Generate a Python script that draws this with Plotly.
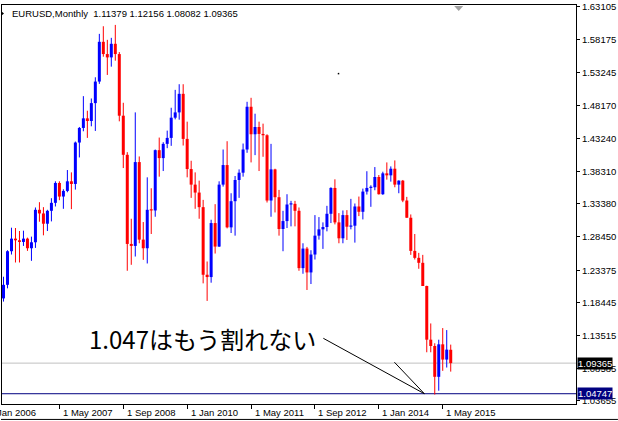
import plotly.graph_objects as go

# ---------------- data (monthly EURUSD, Mar 2006 .. Jul 2015) ----------------
opens = [1.1913, 1.2118, 1.2625, 1.2815, 1.2790, 1.2765, 1.2815, 1.2670, 1.2760, 1.3250,
         1.3195, 1.3040, 1.3235, 1.3355, 1.3655, 1.3450, 1.3535, 1.3680, 1.3640, 1.4265,
         1.4485, 1.4630, 1.4590, 1.4860, 1.5185, 1.5785, 1.5600, 1.5550, 1.5755, 1.5600,
         1.4670, 1.4080, 1.2735, 1.2705, 1.3970, 1.2800, 1.2670, 1.3250, 1.3240, 1.4150,
         1.4030, 1.4245, 1.4335, 1.4640, 1.4720, 1.5000, 1.4320, 1.3865, 1.3630, 1.3510,
         1.3290, 1.2270, 1.2235, 1.3050, 1.2695, 1.3630, 1.3925, 1.2985, 1.3380, 1.3700,
         1.3810, 1.4160, 1.4805, 1.4390, 1.4500, 1.4395, 1.4375, 1.3390, 1.3860, 1.3440,
         1.2960, 1.3080, 1.3330, 1.3340, 1.3235, 1.2370, 1.2665, 1.2305, 1.2575, 1.2860,
         1.2955, 1.2990, 1.3190, 1.3580, 1.3060, 1.2820, 1.3170, 1.2995, 1.3010, 1.3300,
         1.3220, 1.3525, 1.3580, 1.3590, 1.3745, 1.3485, 1.3800, 1.3770, 1.3870, 1.3630,
         1.3690, 1.3390, 1.3130, 1.2630, 1.2525, 1.2450, 1.2100, 1.1290, 1.1195, 1.0730,
         1.1220, 1.0990, 1.11379]
highs = [1.2240, 1.2640, 1.2980, 1.2975, 1.2930, 1.2935, 1.2830, 1.2845, 1.3285, 1.3365,
         1.3290, 1.3250, 1.3425, 1.3680, 1.3680, 1.3560, 1.3850, 1.3815, 1.4280, 1.4500,
         1.4965, 1.4745, 1.4930, 1.5250, 1.5905, 1.6020, 1.5815, 1.5845, 1.6040, 1.5630,
         1.4865, 1.4120, 1.3115, 1.4720, 1.4055, 1.3065, 1.3740, 1.3575, 1.4160, 1.4340,
         1.4270, 1.4445, 1.4790, 1.5060, 1.5145, 1.5145, 1.4580, 1.3990, 1.3815, 1.3690,
         1.3400, 1.2470, 1.3100, 1.3335, 1.3680, 1.4160, 1.4285, 1.3500, 1.3760, 1.3860,
         1.4250, 1.4880, 1.4940, 1.4700, 1.4580, 1.4550, 1.4390, 1.4245, 1.3870, 1.3550,
         1.3235, 1.3485, 1.3385, 1.3385, 1.3285, 1.2745, 1.2690, 1.2640, 1.3170, 1.3140,
         1.3060, 1.3310, 1.3590, 1.3710, 1.3200, 1.3240, 1.3245, 1.3415, 1.3345, 1.3450,
         1.3570, 1.3832, 1.3620, 1.3895, 1.3775, 1.3825, 1.3965, 1.3905, 1.3995, 1.3695,
         1.3700, 1.3445, 1.3180, 1.2885, 1.2600, 1.2570, 1.2105, 1.1535, 1.1236, 1.1290,
         1.1465, 1.1435, 1.12156]
lows = [1.1865, 1.2065, 1.2575, 1.2455, 1.2455, 1.2705, 1.2630, 1.2480, 1.2675, 1.3070,
        1.2865, 1.2930, 1.3075, 1.3300, 1.3395, 1.3265, 1.3515, 1.3260, 1.3555, 1.4040,
        1.4435, 1.4335, 1.4510, 1.4440, 1.5150, 1.5560, 1.5285, 1.5410, 1.5500, 1.4585,
        1.3880, 1.2330, 1.2420, 1.2545, 1.2745, 1.2495, 1.2440, 1.2885, 1.3145, 1.3750,
        1.3835, 1.4180, 1.4215, 1.4615, 1.4610, 1.4220, 1.3740, 1.3430, 1.3265, 1.3115,
        1.2140, 1.1875, 1.2150, 1.2590, 1.2690, 1.3600, 1.2970, 1.2900, 1.2860, 1.3430,
        1.3750, 1.4110, 1.3965, 1.4075, 1.3835, 1.4050, 1.3360, 1.3145, 1.3210, 1.2860,
        1.2625, 1.2975, 1.3000, 1.3000, 1.2330, 1.2285, 1.2040, 1.2130, 1.2500, 1.2800,
        1.2660, 1.2925, 1.3050, 1.3030, 1.2745, 1.2745, 1.2795, 1.2955, 1.2755, 1.3155,
        1.3105, 1.3480, 1.3295, 1.3545, 1.3480, 1.3475, 1.3705, 1.3675, 1.3590, 1.3500,
        1.3365, 1.3130, 1.2570, 1.2500, 1.2360, 1.2100, 1.1100, 1.1100, 1.0462, 1.0520,
        1.0820, 1.0870, 1.08082]
closes = [1.2118, 1.2625, 1.2815, 1.2790, 1.2765, 1.2815, 1.2670, 1.2760, 1.3250, 1.3195,
          1.3040, 1.3235, 1.3355, 1.3655, 1.3450, 1.3535, 1.3680, 1.3640, 1.4265, 1.4485,
          1.4630, 1.4590, 1.4860, 1.5185, 1.5785, 1.5600, 1.5550, 1.5755, 1.5600, 1.4670,
          1.4080, 1.2735, 1.2705, 1.3970, 1.2800, 1.2670, 1.3250, 1.3240, 1.4150, 1.4030,
          1.4245, 1.4335, 1.4640, 1.4720, 1.5000, 1.4320, 1.3865, 1.3630, 1.3510, 1.3290,
          1.2270, 1.2235, 1.3050, 1.2695, 1.3630, 1.3925, 1.2985, 1.3380, 1.3700, 1.3810,
          1.4160, 1.4805, 1.4390, 1.4500, 1.4395, 1.4375, 1.3390, 1.3860, 1.3440, 1.2960,
          1.3080, 1.3330, 1.3340, 1.3235, 1.2370, 1.2665, 1.2305, 1.2575, 1.2860, 1.2955,
          1.2990, 1.3190, 1.3580, 1.3060, 1.2820, 1.3170, 1.2995, 1.3010, 1.3300, 1.3220,
          1.3525, 1.3580, 1.3590, 1.3745, 1.3485, 1.3800, 1.3770, 1.3870, 1.3630, 1.3690,
          1.3390, 1.3130, 1.2630, 1.2525, 1.2450, 1.2100, 1.1290, 1.1195, 1.0730, 1.1220,
          1.0990, 1.1140, 1.09365]

# x-axis tick labels (bar index counted from Mar 2006)
x_tick_index = [-2, 14, 30, 46, 62, 78, 94, 110]
x_tick_labels = ["1 Jan 2006", "1 May 2007", "1 Sep 2008", "1 Jan 2010",
                 "1 May 2011", "1 Sep 2012", "1 Jan 2014", "1 May 2015"]

# right price-scale labels
y_tick_values = [1.63105, 1.58175, 1.53245, 1.48170, 1.43240, 1.38310, 1.33380,
                 1.28450, 1.23375, 1.18445, 1.13515, 1.08585, 1.03655]

title_text = "EURUSD,Monthly  1.11379 1.12156 1.08082 1.09365"
current_price = 1.09365
support_level = 1.04747
note_text = "1.047はもう割れない"
note_pos = (21.0, 1.1311)            # (bar index, price) of the text's left edge
trend_lines = [((80.1, 1.1311), (105.4, 1.04747)),
               ((97.9, 1.0950), (105.4, 1.04747))]
stray_dot = (83.9, 1.5305)           # tiny object left on the chart

# ---------------- figure ----------------
W, H = 618, 421
ML, MR, MT, MB = 1, 42, 3, 17
PW, PH = W - ML - MR, H - MT - MB
x0 = -0.375
x1 = x0 + PW / 4.0
y_top = 1.63105 + 2 / 666.0
y_bot = 1.63105 - 399 / 666.0

BLUE = "#0000FF"
RED = "#FF0000"
FONT = "Liberation Sans"

idx = list(range(len(opens)))
body_base, body_h, body_col = [], [], []
wick_up_x, wick_up_y, wick_dn_x, wick_dn_y = [], [], [], []
for i, o, h, l, c in zip(idx, opens, highs, lows, closes):
    up = c >= o
    body_base.append(min(o, c))
    body_h.append(max(abs(c - o), 1.2 / 666.0))
    body_col.append(BLUE if up else RED)
    if up:
        wick_up_x += [i, i, None]
        wick_up_y += [l, h, None]
    else:
        wick_dn_x += [i, i, None]
        wick_dn_y += [l, h, None]

fig = go.Figure()
fig.add_trace(go.Bar(x=idx, y=body_h, base=body_base, width=0.75,
                     marker=dict(color=body_col, line=dict(width=0)),
                     hoverinfo="skip"))
fig.add_trace(go.Scatter(x=wick_up_x, y=wick_up_y, mode="lines",
                         line=dict(color=BLUE, width=1), hoverinfo="skip"))
fig.add_trace(go.Scatter(x=wick_dn_x, y=wick_dn_y, mode="lines",
                         line=dict(color=RED, width=1), hoverinfo="skip"))
fig.add_trace(go.Scatter(x=[stray_dot[0]], y=[stray_dot[1]], mode="markers",
                         marker=dict(color="#000000", size=1.5, symbol="square"),
                         hoverinfo="skip"))

def px_x(px):
    return (px - ML) / PW

def px_y(py):
    return (MT + PH - py) / PH

shapes = [
    dict(type="line", xref="paper", yref="y", x0=0, x1=1, y0=current_price, y1=current_price,
         line=dict(color="#C0C0C0", width=1), layer="below"),
    dict(type="line", xref="paper", yref="y", x0=0, x1=1, y0=support_level, y1=support_level,
         line=dict(color="#000080", width=1), layer="below"),
    # chart shift marker
    dict(type="path", xref="paper", yref="paper",
         path=f"M{px_x(454)},{px_y(4)} L{px_x(463)},{px_y(4)} L{px_x(458.5)},{px_y(9)} Z",
         fillcolor="#A0A0A0", line=dict(width=0)),
    # small marker left of title
    dict(type="path", xref="paper", yref="paper",
         path=f"M{px_x(0)},{px_y(9)} L{px_x(0)},{px_y(14)} L{px_x(3)},{px_y(11.5)} Z",
         fillcolor="#000000", line=dict(width=0)),
    # outer frame bottom
    dict(type="line", xref="paper", yref="paper", x0=px_x(0), x1=px_x(618),
         y0=px_y(419.5), y1=px_y(419.5), line=dict(color="#000000", width=1)),
]
for (a, b) in trend_lines:
    shapes.append(dict(type="line", xref="x", yref="y", x0=a[0], y0=a[1], x1=b[0], y1=b[1],
                       line=dict(color="#000000", width=1)))

annotations = [
    dict(text=title_text, xref="paper", yref="paper", x=px_x(9), y=px_y(12),
         xanchor="left", yanchor="middle", showarrow=False,
         font=dict(family=FONT, size=9.5, color="#000000")),
    dict(text=note_text, xref="x", yref="y", x=note_pos[0], y=note_pos[1],
         xanchor="left", yanchor="middle", showarrow=False,
         font=dict(family="Noto Sans CJK JP", size=24, color="#000000")),
    dict(text=f"{current_price:.5f}", xref="paper", yref="y", x=px_x(577), y=current_price,
         xanchor="left", yanchor="middle", showarrow=False, bgcolor="#000000",
         borderpad=0, font=dict(family=FONT, size=9.5, color="#FFFFFF")),
    dict(text=f"{support_level:.5f}", xref="paper", yref="y", x=px_x(577), y=support_level,
         xanchor="left", yanchor="middle", showarrow=False, bgcolor="#000080",
         borderpad=0, font=dict(family=FONT, size=9.5, color="#FFFFFF")),
]
for ti, tl in zip(x_tick_index, x_tick_labels):
    if ti < x0:
        # first label is partly hidden behind the left edge of the window
        annotations.append(dict(text=tl, xref="paper", yref="paper",
                                x=px_x(37), y=0, yshift=-8,
                                xanchor="right", yanchor="middle", showarrow=False,
                                font=dict(family=FONT, size=9.5, color="#000000")))
    else:
        annotations.append(dict(text=tl, xref="paper", yref="paper",
                                x=(ti - x0) / (x1 - x0), y=0, xshift=1.5, yshift=-8,
                                xanchor="left", yanchor="middle", showarrow=False,
                                font=dict(family=FONT, size=9.5, color="#000000")))

fig.update_layout(
    width=W, height=H,
    margin=dict(l=ML, r=MR, t=MT, b=MB, pad=0),
    paper_bgcolor="#FFFFFF", plot_bgcolor="#FFFFFF",
    showlegend=False, barmode="overlay", hovermode=False,
    shapes=shapes, annotations=annotations,
    xaxis=dict(range=[x0, x1], showgrid=False, zeroline=False,
               tickmode="array", tickvals=x_tick_index, showticklabels=False,
               ticks="outside", ticklen=4, tickcolor="#000000", tickwidth=1,
               showline=True, mirror=True, linecolor="#000000", linewidth=1,
               fixedrange=True),
    yaxis=dict(range=[y_bot, y_top], side="right", showgrid=False, zeroline=False,
               tickmode="array", tickvals=y_tick_values,
               ticktext=[f"{v:.5f}" for v in y_tick_values],
               ticks="outside", ticklen=3, tickcolor="#000000", tickwidth=1,
               tickfont=dict(family=FONT, size=9.5, color="#000000"),
               ticklabeloverflow="allow",
               showline=True, mirror=True, linecolor="#000000", linewidth=1,
               fixedrange=True),
)

fig.write_html("out.html", config={"displayModeBar": False, "staticPlot": True},
               post_script="document.body.style.margin='0';document.body.style.overflow='hidden';")
